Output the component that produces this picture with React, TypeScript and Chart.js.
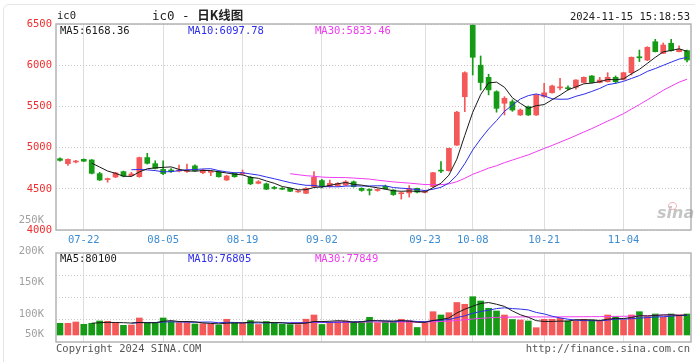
import React, { useEffect, useRef } from 'react';
import { Chart, registerables } from 'chart.js';

Chart.register(...registerables);

// ---------- data ----------
const DATES = [
  '07-17', '07-18', '07-19', '07-22', '07-23', '07-24', '07-25', '07-26', '07-29', '07-30',
  '07-31', '08-01', '08-02', '08-05', '08-06', '08-07', '08-08', '08-09', '08-12', '08-13',
  '08-14', '08-15', '08-16', '08-19', '08-20', '08-21', '08-22', '08-23', '08-26', '08-27',
  '08-28', '08-29', '08-30', '09-02', '09-03', '09-04', '09-05', '09-06', '09-09', '09-10',
  '09-11', '09-12', '09-13', '09-18', '09-19', '09-20', '09-23', '09-24', '09-25', '09-26',
  '09-27', '09-30', '10-08', '10-09', '10-10', '10-11', '10-14', '10-15', '10-16', '10-17',
  '10-18', '10-21', '10-22', '10-23', '10-24', '10-25', '10-28', '10-29', '10-30', '10-31',
  '11-01', '11-04', '11-05', '11-06', '11-07', '11-08', '11-11', '11-12', '11-13', '11-14',
];
const TICK_DATES = ['07-22', '08-05', '08-19', '09-02', '09-23', '10-08', '10-21', '11-04'];

const OPEN = [
  4865, 4805, 4825, 4858, 4850, 4684, 4612, 4643, 4708, 4660,
  4647, 4879, 4805, 4735, 4728, 4715, 4710, 4778, 4695, 4700,
  4708, 4607, 4688, 4680, 4640, 4566, 4560, 4515, 4505, 4506,
  4462, 4445, 4526, 4600, 4526, 4535, 4545, 4585, 4506, 4490,
  4480, 4530, 4485, 4440, 4450, 4506, 4458, 4526, 4725, 4720,
  5030, 5618, 6488, 6000, 5853, 5678, 5538, 5557, 5396, 5496,
  5396, 5620, 5666, 5725, 5725, 5732, 5790, 5869, 5790, 5800,
  5853, 5829, 5909, 6100, 6063, 6285, 6144, 6266, 6164, 6177,
];
const HIGH = [
  4875, 4865, 4845, 4862, 4855, 4700, 4630, 4700, 4715, 4700,
  4885, 4930, 4840, 4840, 4745, 4789, 4800, 4790, 4735, 4715,
  4715, 4665, 4695, 4728, 4650, 4600, 4570, 4530, 4515, 4510,
  4480, 4515, 4708, 4615, 4607, 4575, 4600, 4595, 4512, 4500,
  4500, 4545, 4490, 4460, 4540, 4510, 4475, 4700, 4829, 4995,
  5440, 5920, 6500, 6112, 5890, 5690, 5618, 5580, 5470, 5505,
  5645, 5780, 5760, 5842, 5750, 5825, 5860, 5875, 5853, 5909,
  5870, 5915, 6100, 6184, 6225, 6314, 6270, 6314, 6236, 6185,
];
const LOW = [
  4835, 4785, 4815, 4830, 4680, 4600, 4580, 4635, 4645, 4650,
  4640, 4800, 4740, 4670, 4700, 4705, 4700, 4715, 4685, 4660,
  4640, 4600, 4640, 4667, 4550, 4560, 4490, 4495, 4490, 4465,
  4455, 4440, 4520, 4510, 4520, 4530, 4540, 4520, 4470, 4425,
  4470, 4495, 4420, 4375, 4400, 4450, 4450, 4520, 4696, 4715,
  5025, 5436, 5881, 5699, 5640, 5430, 5396, 5440, 5390, 5390,
  5390, 5610, 5660, 5699, 5700, 5710, 5785, 5785, 5785, 5795,
  5780, 5820, 5880, 6044, 6055, 6160, 6140, 6170, 6160, 6040,
];
const CLOSE = [
  4845, 4858, 4832, 4835, 4688, 4607, 4618, 4692, 4655, 4680,
  4879, 4809, 4748, 4685, 4708, 4728, 4725, 4720, 4728, 4708,
  4647, 4655, 4647, 4688, 4560, 4586, 4495, 4505, 4495, 4470,
  4470, 4506, 4640, 4526, 4566, 4566, 4585, 4526, 4480, 4480,
  4490, 4500, 4430, 4450, 4500, 4460, 4465, 4696, 4715, 4991,
  5430, 5909, 6096, 5790, 5700, 5477, 5598, 5456, 5456, 5396,
  5638, 5665, 5748, 5735, 5715, 5820, 5853, 5790, 5820, 5853,
  5800, 5909, 6096, 6090, 6217, 6164, 6245, 6177, 6193, 6063,
];
const VOLUME = [
  46100, 46100, 51200, 42200, 46100, 55200, 54000, 48500, 38200, 39400,
  67000, 48500, 48500, 67000, 52400, 48500, 48500, 43300, 44500, 43300,
  39400, 61900, 47000, 47000, 57100, 41400, 53200, 47000, 42500, 41000,
  41000, 62300, 78800, 41400, 47000, 52400, 55200, 53200, 53200, 69700,
  48500, 51200, 53200, 61900, 56300, 29600, 47300, 91800, 78800, 87900,
  128000, 121000, 150900, 134000, 105200, 94600, 78800, 61100, 59100, 55200,
  28800, 61900, 61900, 65800, 55200, 55200, 61900, 59100, 55200, 78800,
  72100, 59100, 78800, 91800, 72100, 82700, 69700, 82700, 78800, 82700,
];

const PRICE_MIN = 4000;
const PRICE_MAX = 6500;
const PRICE_STEP = 500;
const VOL_MIN = -27600;
const VOL_MAX = 323000;
const VOL_TICK_LABELS = ['50K', '100K', '150K', '200K', '250K'];
const VOL_TICK_VALUES = [50000, 100000, 150000, 200000, 250000];
const VOL_LABEL_MIN = 55300;
const VOL_LABEL_MAX = 197400;

const PRICE_MA_TEXT = ['MA5:6168.36', 'MA10:6097.78', 'MA30:5833.46'];
const VOL_MA_TEXT = ['MA5:80100', 'MA10:76805', 'MA30:77849'];

// ---------- styles ----------
const MONO = '"DejaVu Sans Mono", "Liberation Mono", monospace';
const UP = 'rgb(245,88,88)';
const DOWN = 'rgb(22,155,22)';
const MA5C = '#1a1a1a';
const MA10C = 'rgb(45,45,235)';
const MA30C = 'rgb(240,60,240)';

function sma(arr: number[], n: number): (number | null)[] {
  return arr.map((_, i) => {
    if (i < n - 1) return null;
    let s = 0;
    for (let k = i - n + 1; k <= i; k++) s += arr[k];
    return s / n;
  });
}

const framePlugin = {
  id: 'frame',
  afterDraw(chart: any) {
    const { ctx, chartArea: a } = chart;
    ctx.save();
    ctx.strokeStyle = '#b4b4b4';
    ctx.lineWidth = 1.5;
    ctx.strokeRect(a.left, a.top, a.right - a.left, a.bottom - a.top);
    ctx.restore();
  },
};

const colors = CLOSE.map((c, i) => (c >= OPEN[i] ? UP : DOWN));

const xAxis = (showLabels: boolean) => ({
  type: 'category' as const,
  offset: true,
  grid: { offset: false, color: '#dedede', drawTicks: false, lineWidth: 1 },
  border: { display: false },
  ticks: {
    display: showLabels,
    autoSkip: false,
    maxRotation: 0,
    color: 'rgb(60,140,210)',
    font: { family: MONO, size: 10.5 },
    padding: 4,
    callback: (v: any) => DATES[v],
  },
  afterBuildTicks: (s: any) => {
    s.ticks = s.ticks.filter((t: any) => TICK_DATES.includes(DATES[t.value]));
  },
  afterFit: (s: any) => {
    s.height = showLabels ? 20 : 0;
  },
});

const lineDs = (label: string, data: (number | null)[], color: string, yAxisID?: string) => ({
  type: 'line' as const,
  label,
  data,
  borderColor: color,
  borderWidth: 1,
  pointRadius: 0,
  tension: 0,
  fill: false,
  order: 0,
  ...(yAxisID ? { yAxisID } : {}),
});

export default function App() {
  const priceRef = useRef<HTMLCanvasElement>(null);
  const volRef = useRef<HTMLCanvasElement>(null);

  useEffect(() => {
    const price = new Chart(priceRef.current!, {
      type: 'bar',
      data: {
        labels: DATES,
        datasets: [
          lineDs('MA5', sma(CLOSE, 5), MA5C),
          lineDs('MA10', sma(CLOSE, 10), MA10C),
          lineDs('MA30', sma(CLOSE, 30), MA30C),
          {
            label: 'wick',
            data: LOW.map((l, i) => [l, HIGH[i]]),
            backgroundColor: colors,
            barThickness: 1,
            grouped: false,
            order: 2,
          } as any,
          {
            label: 'body',
            data: OPEN.map((o, i) => [o, CLOSE[i]]),
            backgroundColor: colors,
            barThickness: 5,
            minBarLength: 1,
            grouped: false,
            order: 1,
          } as any,
        ],
      },
      options: {
        animation: false,
        responsive: false,
        events: [],
        layout: { padding: { top: 24, right: 4, left: 0, bottom: 0 } },
        plugins: { legend: { display: false }, tooltip: { enabled: false } },
        scales: {
          x: xAxis(true) as any,
          y: {
            min: PRICE_MIN,
            max: PRICE_MAX,
            ticks: {
              stepSize: PRICE_STEP,
              color: 'rgb(240,45,45)',
              font: { family: MONO, size: 10.5 },
              padding: 4,
              callback: (v: any) => String(v),
            },
            grid: { color: '#c8c8c8', drawTicks: false },
            border: { display: false, dash: [1, 2] },
            afterFit: (s: any) => {
              s.width = 56;
            },
          } as any,
        },
      },
      plugins: [framePlugin],
    });

    const vol = new Chart(volRef.current!, {
      type: 'bar',
      data: {
        labels: DATES,
        datasets: [
          lineDs('MA5', sma(VOLUME, 5), MA5C, 'y'),
          lineDs('MA10', sma(VOLUME, 10), MA10C, 'y'),
          lineDs('MA30', sma(VOLUME, 30), MA30C, 'y'),
          {
            label: 'vol',
            data: VOLUME,
            backgroundColor: colors,
            barThickness: 6,
            order: 1,
            yAxisID: 'y',
          } as any,
        ],
      },
      options: {
        animation: false,
        responsive: false,
        events: [],
        layout: { padding: { top: 53, right: 4, left: 0, bottom: 20 } },
        plugins: { legend: { display: false }, tooltip: { enabled: false } },
        scales: {
          x: xAxis(false) as any,
          y: {
            position: 'right',
            min: VOL_MIN,
            max: VOL_MAX,
            ticks: { display: false },
            grid: { color: '#c8c8c8', drawTicks: false },
            border: { display: false, dash: [1, 2] },
            afterBuildTicks: (s: any) => {
              s.ticks = [1, 2, 3].map((k) => ({ value: s.min + ((s.max - s.min) * k) / 4 }));
            },
            afterFit: (s: any) => {
              s.width = 0;
            },
          } as any,
          yl: {
            position: 'left',
            min: VOL_LABEL_MIN,
            max: VOL_LABEL_MAX,
            grid: { display: false },
            border: { display: false },
            ticks: {
              color: '#a0a0a0',
              font: { family: MONO, size: 10.5 },
              padding: 4,
              callback: (_v: any, i: number) => VOL_TICK_LABELS[i],
            },
            afterBuildTicks: (s: any) => {
              const clamp = s.min + (s.max - s.min) * 0.09;
              s.ticks = VOL_TICK_VALUES.map((v) => ({ value: Math.max(v, clamp) }));
            },
            afterFit: (s: any) => {
              s.width = 56;
            },
          } as any,
        },
      },
      plugins: [framePlugin],
    });

    return () => {
      price.destroy();
      vol.destroy();
    };
  }, []);

  const txt = (extra: React.CSSProperties): React.CSSProperties => ({
    position: 'absolute',
    fontFamily: MONO,
    fontSize: 10.5,
    lineHeight: '12px',
    whiteSpace: 'nowrap',
    ...extra,
  });

  return (
    <div
      style={{
        position: 'fixed',
        left: 0,
        top: 0,
        width: 695,
        height: 362,
        overflow: 'hidden',
        background: '#fff',
      }}
    >
      <div
        style={{
          position: 'absolute',
          left: 3,
          top: 4,
          width: 710,
          height: 380,
          border: '1px solid #e6e6e6',
          borderRadius: 6,
        }}
      />
      <canvas
        ref={priceRef}
        width={695}
        height={250}
        style={{ position: 'absolute', left: 0, top: 0, width: 695, height: 250 }}
      />
      <canvas
        ref={volRef}
        width={695}
        height={162}
        style={{ position: 'absolute', left: 0, top: 200, width: 695, height: 162 }}
      />
      <div style={txt({ left: 57, top: 9, color: '#222' })}>ic0</div>
      <div
        style={txt({
          left: 152,
          top: 8,
          color: '#222',
          fontSize: 12.5,
          lineHeight: '14px',
          fontFamily: MONO + ', "Noto Sans CJK SC"',
        })}
      >
        ic0 - <span style={{ fontFamily: '"Noto Sans CJK SC"', fontWeight: 700 }}>日K线图</span>
      </div>
      <div style={txt({ right: 5, top: 10, color: '#222' })}>2024-11-15 15:18:53</div>

      <div style={txt({ left: 60, top: 24, color: MA5C })}>{PRICE_MA_TEXT[0]}</div>
      <div style={txt({ left: 188, top: 24, color: MA10C })}>{PRICE_MA_TEXT[1]}</div>
      <div style={txt({ left: 315, top: 24, color: MA30C })}>{PRICE_MA_TEXT[2]}</div>

      <div style={txt({ left: 60, top: 252, color: MA5C })}>{VOL_MA_TEXT[0]}</div>
      <div style={txt({ left: 188, top: 252, color: MA10C })}>{VOL_MA_TEXT[1]}</div>
      <div style={txt({ left: 315, top: 252, color: MA30C })}>{VOL_MA_TEXT[2]}</div>

      <div
        style={{
          position: 'absolute',
          left: 668,
          top: 202,
          width: 7,
          height: 6,
          borderRadius: '50%',
          border: '1.5px solid rgba(235,120,120,0.55)',
        }}
      />
      <div
        style={{
          position: 'absolute',
          left: 657,
          top: 204,
          fontFamily: '"DejaVu Sans", sans-serif',
          fontStyle: 'italic',
          fontWeight: 700,
          fontSize: 16,
          lineHeight: '18px',
          color: 'rgba(150,150,150,0.55)',
        }}
      >
        sina
      </div>

      <div style={txt({ left: 56, top: 342, color: '#555' })}>Copyright 2024 SINA.COM</div>
      <div style={txt({ right: 5, top: 342, color: '#555' })}>http://finance.sina.com.cn</div>
    </div>
  );
}
